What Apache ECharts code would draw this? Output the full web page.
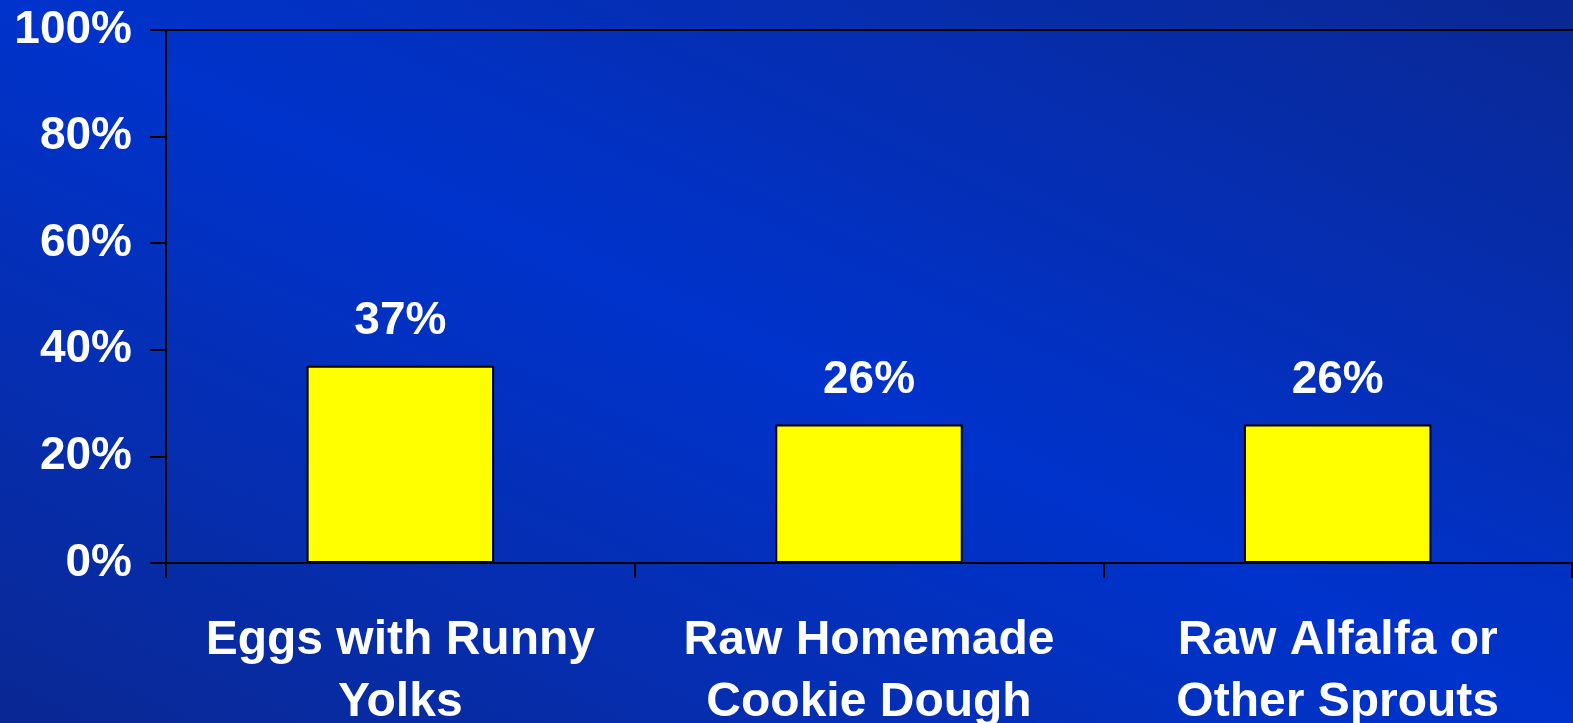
<!DOCTYPE html>
<html>
<head>
<meta charset="utf-8">
<script src="https://cdn.jsdelivr.net/npm/echarts@6/dist/echarts.min.js"></script>
<style>
html,body{margin:0;padding:0;}
#chart{width:1573px;height:723px;background:linear-gradient(to top right,#0a2894 0%,#0033cc 50%,#0a2894 100%);}
</style>
</head>
<body>
<div id="chart"></div>
<script>
const categories = ['Eggs with Runny\nYolks', 'Raw Homemade\nCookie Dough', 'Raw Alfalfa or\nOther Sprouts'];
const values = [37, 26, 26];
const yTicks = [0, 20, 40, 60, 80, 100];

const font = '"Liberation Sans", Arial, sans-serif';
const chart = echarts.init(document.getElementById('chart'));
chart.setOption({
  backgroundColor: 'transparent',
  animation: false,
  grid: {left: 166, right: 1, top: 30, bottom: 160, containLabel: false, outerBoundsMode: 'none'},
  xAxis: [{
    type: 'category',
    data: categories,
    axisLine: {show: true, lineStyle: {color: '#000', width: 2}},
    axisTick: {show: true, length: 15, lineStyle: {color: '#000', width: 2}},
    axisLabel: {color: '#fff', fontFamily: font, fontWeight: 'bold', fontSize: 48, lineHeight: 62, margin: 47, interval: 0}
  }, {
    type: 'category',
    position: 'top',
    data: categories,
    axisLine: {show: true, lineStyle: {color: '#000', width: 2}},
    axisTick: {show: false},
    axisLabel: {show: false}
  }],
  yAxis: {
    type: 'value',
    min: yTicks[0],
    max: yTicks[yTicks.length - 1],
    interval: 20,
    axisLine: {show: true, lineStyle: {color: '#000', width: 2}},
    axisTick: {show: true, length: 16, lineStyle: {color: '#000', width: 2}},
    splitLine: {show: false},
    axisLabel: {color: '#fff', fontFamily: font, fontWeight: 'bold', fontSize: 46, margin: 34, padding: [7, 0, 0, 0], formatter: '{value}%'}
  },
  series: [{
    type: 'bar',
    data: values,
    barWidth: '40%',
    itemStyle: {color: '#ffff00', borderColor: '#000', borderWidth: 2},
    label: {show: true, position: 'top', distance: 21, color: '#fff', fontFamily: font, fontWeight: 'bold', fontSize: 46, formatter: '{c}%'}
  }]
});
</script>
</body>
</html>
